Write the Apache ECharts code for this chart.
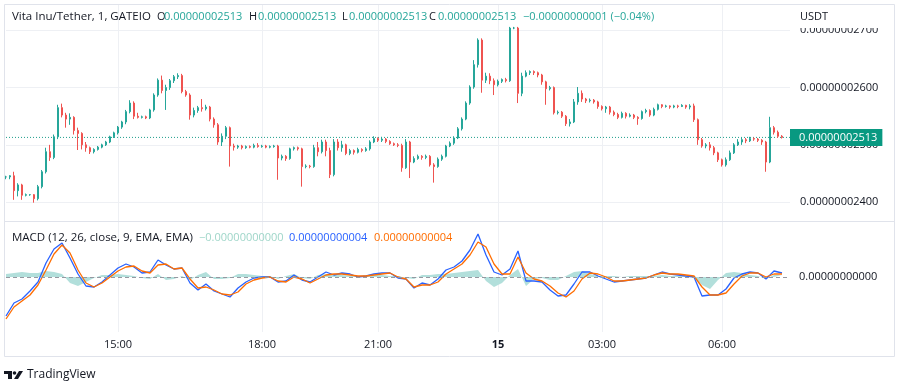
<!DOCTYPE html>
<html><head><meta charset="utf-8">
<script src="https://cdn.jsdelivr.net/npm/echarts@6/dist/echarts.min.js"></script>
<style>html,body{margin:0;padding:0;background:#fff}#c{width:900px;height:386px}</style>
</head><body><div id="c"></div>
<script>
// ---- data (prices in units of 1e-11 USDT) ----
const timeLabels = [[28,'15:00'],[64,'18:00'],[93,'21:00'],[123,'15'],[149,'03:00'],[179,'06:00']];
const barCount = 197;
const priceTicks = [2400, 2500, 2600, 2700];
const lastPrice = 2513;
// [open, close, low, high]
const ohlc = [
[2444,2444,2440,2446],[2444,2446,2440,2447],[2446,2420,2404,2453],[2420,2430,2410,2433],[2430,2412,2404,2432],
[2412,2413,2410,2415],[2413,2413,2411,2414],[2413,2406,2399,2414],[2406,2427,2403,2430],[2427,2453,2424,2456],
[2453,2488,2450,2495],[2488,2478,2472,2500],[2478,2514,2475,2518],[2514,2565,2510,2570],[2565,2552,2548,2572],
[2552,2545,2530,2556],[2545,2548,2535,2555],[2548,2525,2518,2550],[2525,2520,2491,2530],[2520,2500,2492,2522],
[2500,2495,2488,2505],[2495,2488,2484,2497],[2488,2492,2485,2494],[2492,2496,2490,2498],[2496,2500,2494,2502],
[2500,2505,2498,2507],[2505,2514,2503,2516],[2514,2521,2512,2523],[2521,2531,2518,2533],[2531,2540,2528,2542],
[2540,2558,2536,2561],[2558,2573,2555,2578],[2573,2550,2545,2576],[2550,2548,2546,2556],[2548,2549,2546,2551],
[2549,2547,2545,2551],[2547,2561,2545,2563],[2561,2587,2558,2590],[2587,2613,2584,2616],[2613,2595,2590,2621],
[2595,2600,2561,2605],[2600,2612,2596,2615],[2612,2619,2608,2622],[2619,2621,2615,2625],[2621,2593,2590,2624],
[2593,2587,2584,2596],[2587,2552,2544,2590],[2552,2560,2548,2565],[2560,2565,2556,2568],[2565,2563,2558,2580],
[2563,2566,2560,2570],[2566,2545,2541,2568],[2545,2535,2530,2548],[2535,2505,2500,2538],[2505,2515,2498,2520],
[2515,2530,2510,2533],[2530,2498,2462,2532],[2498,2496,2490,2502],[2496,2498,2493,2500],[2498,2495,2492,2500],
[2495,2497,2493,2499],[2497,2496,2494,2499],[2496,2499,2494,2502],[2499,2497,2495,2503],[2497,2498,2495,2500],
[2498,2496,2494,2500],[2496,2497,2494,2499],[2497,2498,2495,2500],[2498,2477,2439,2500],[2477,2480,2473,2483],
[2480,2476,2472,2482],[2476,2493,2474,2495],[2493,2495,2490,2497],[2495,2493,2490,2497],[2493,2462,2427,2495],
[2462,2463,2459,2466],[2463,2462,2459,2465],[2462,2495,2460,2500],[2495,2488,2480,2505],[2488,2505,2485,2509],
[2505,2490,2480,2509],[2490,2448,2442,2495],[2448,2505,2445,2510],[2505,2495,2490,2510],[2495,2500,2488,2507],
[2500,2485,2482,2502],[2485,2490,2482,2493],[2490,2487,2483,2492],[2487,2492,2485,2495],[2492,2490,2487,2494],
[2490,2493,2488,2496],[2493,2505,2490,2508],[2505,2511,2503,2515],[2511,2508,2505,2513],[2508,2510,2505,2514],
[2510,2506,2503,2512],[2506,2502,2500,2508],[2502,2500,2498,2504],[2500,2499,2496,2503],[2499,2460,2453,2502],
[2460,2505,2458,2510],[2505,2470,2442,2507],[2470,2476,2468,2480],[2476,2480,2474,2483],[2480,2478,2474,2482],
[2478,2480,2475,2483],[2480,2465,2462,2482],[2465,2462,2434,2468],[2462,2475,2460,2478],[2475,2480,2472,2483],
[2480,2498,2478,2500],[2498,2503,2496,2506],[2503,2512,2500,2515],[2512,2528,2510,2531],[2528,2545,2525,2548],
[2545,2573,2543,2576],[2573,2601,2570,2604],[2601,2640,2598,2648],[2640,2683,2635,2686],[2683,2613,2591,2686],
[2613,2620,2608,2626],[2620,2612,2606,2625],[2612,2605,2587,2616],[2605,2611,2602,2614],[2611,2614,2608,2616],
[2614,2612,2609,2617],[2612,2704,2610,2706],[2704,2704,2702,2706],[2704,2590,2573,2706],[2590,2620,2585,2626],
[2620,2626,2618,2630],[2626,2628,2622,2630],[2628,2626,2622,2630],[2626,2622,2618,2628],[2622,2610,2605,2624],
[2610,2598,2570,2612],[2598,2600,2595,2603],[2600,2556,2553,2602],[2556,2557,2553,2560],[2557,2550,2547,2559],
[2550,2537,2533,2552],[2537,2540,2532,2545],[2540,2575,2538,2580],[2575,2590,2570,2601],[2590,2580,2575,2595],
[2580,2577,2573,2582],[2577,2578,2574,2581],[2578,2575,2572,2580],[2575,2567,2563,2577],[2567,2563,2560,2569],
[2563,2566,2556,2568],[2566,2557,2553,2568],[2557,2553,2550,2560],[2553,2548,2545,2556],[2548,2555,2546,2558],
[2555,2550,2546,2557],[2550,2552,2548,2555],[2552,2548,2545,2554],[2548,2546,2535,2550],[2546,2558,2544,2560],
[2558,2560,2555,2563],[2560,2552,2549,2562],[2552,2562,2550,2565],[2562,2570,2560,2572],[2570,2567,2564,2571],
[2567,2568,2565,2570],[2568,2566,2563,2569],[2566,2568,2564,2570],[2568,2567,2564,2570],[2567,2569,2566,2571],
[2569,2566,2563,2570],[2566,2568,2562,2571],[2568,2544,2540,2572],[2544,2509,2500,2546],[2509,2498,2495,2512],
[2498,2500,2494,2503],[2500,2495,2490,2505],[2495,2486,2482,2498],[2486,2474,2470,2488],[2474,2465,2462,2476],
[2465,2474,2462,2478],[2474,2486,2472,2490],[2486,2500,2484,2503],[2500,2505,2498,2510],[2505,2509,2500,2512],
[2509,2507,2503,2512],[2507,2511,2505,2514],[2511,2510,2507,2513],[2510,2508,2505,2512],[2508,2505,2500,2510],
[2505,2470,2453,2507],[2470,2530,2468,2549],[2530,2522,2518,2533],[2522,2515,2512,2525],[2515,2513,2511,2517]
];
// MACD pane values (one point every 2 bars), in units of 1e-11
const macdLine = [-39,-26,-22,-14,-5,14,28,34,19,3,-9,-10,-5,2,9,13,10,4,5,17,12,8,9,-6,-13,-7,-14,-17,-20,-11,
-5,-1,0,0,-5,-4,2,-3,-5,0,5,2,4,3,0,1,3,4,4,-1,-2,-11,-6,-8,-2,7,10,16,27,43,
22,5,2,8,26,-4,-4,-5,-13,-19,-18,-7,5,5,1,-2,-5,-4,-3,-2,-1,2,5,3,2,1,0,-19,-18,-18,
-12,-1,3,5,4,-2,6,4];
const signalLine = [-42,-30,-24,-18,-8,7,23,32,24,7,-6,-10,-6,0,6,10,11,6,4,12,13,8,9,-2,-11,-10,-13,-17,-18,-15,
-7,-3,-1,0,-4,-5,0,-2,-6,-2,2,3,3,2,1,1,2,3,4,0,-2,-10,-8,-8,-5,3,8,13,22,35,
30,13,3,3,20,4,-2,-4,-9,-16,-20,-14,-2,4,3,0,-4,-4,-3,-2,-1,2,4,3,3,2,1,-10,-18,-18,
-16,-7,1,4,4,0,3,3];
const histogram = [3,4,5,4,4,6,5,3,-6,-9,-5,-1,2,2,3,2,1,-1,-2,3,-3,-2,1,-3,2,5,-2,-2,-1,3,
3,2,1,1,-2,1,3,-1,-2,2,3,3,2,1,1,1,2,2,1,1,-1,-2,2,2,3,3,4,5,6,7,
-4,-10,-6,2,8,-9,-2,-1,-3,-3,1,5,6,3,1,1,1,0,1,1,1,1,2,1,1,1,0,-8,-12,-3,
4,5,4,2,1,-2,2,2];

// ---- build ----
const categories = new Array(barCount).fill('');
timeLabels.forEach(([i, t]) => { categories[i] = t; });
const fmtPrice = v => '0.0000000' + Math.round(v);
const UP = '#26a69a', DOWN = '#ef5350', TXT = '#131722', GRIDC = '#eef0f4';
const FONT = '"Open Sans", sans-serif';
const labelInt = (i, v) => v !== '';
const pairs = arr => arr.map((v, j) => [2 * j, v]);

const chart = echarts.init(document.getElementById('c'), null, {renderer: 'canvas'});
const txt = (x, y, s, fill, size, weight) => ({type: 'text', x, y, silent: true, z: 50,
  style: {text: s, fill, font: (weight || 'normal') + ' ' + (size || 11) + 'px ' + FONT, verticalAlign: 'middle'}});

chart.setOption({
  animation: false,
  backgroundColor: '#ffffff',
  textStyle: {fontFamily: FONT},
  grid: [
    {left: 6, width: 784, top: 4, height: 217},
    {left: 6, width: 784, top: 222, height: 110}
  ],
  xAxis: [
    {type: 'category', gridIndex: 0, data: categories, boundaryGap: false,
     axisLine: {show: false}, axisTick: {show: false}, axisLabel: {show: false},
     splitLine: {show: true, interval: labelInt, lineStyle: {color: GRIDC}}},
    {type: 'category', gridIndex: 1, data: categories, boundaryGap: false,
     axisLine: {show: false}, axisTick: {show: false},
     axisLabel: {interval: labelInt, color: TXT, fontSize: 11, margin: 7,
       formatter: v => v === '15' ? '{b|15}' : v,
       rich: {b: {fontWeight: 'bold', fontSize: 11, color: TXT}}},
     splitLine: {show: true, interval: labelInt, lineStyle: {color: GRIDC}}}
  ],
  yAxis: [
    {type: 'value', gridIndex: 0, position: 'right', min: 2367, max: 2746,
     axisLine: {show: false}, axisTick: {show: false, customValues: priceTicks},
     axisLabel: {customValues: priceTicks, formatter: v => fmtPrice(v),
       margin: 10, color: TXT, fontSize: 11},
     splitLine: {show: true, lineStyle: {color: GRIDC}}},
    {type: 'value', gridIndex: 1, position: 'right', min: -55, max: 55, interval: 55,
     axisLine: {show: false}, axisTick: {show: false}, splitLine: {show: false},
     axisLabel: {formatter: v => v === 0 ? '0.00000000000' : '', margin: 9, color: TXT, fontSize: 11}}
  ],
  series: [
    {type: 'line', name: 'last', xAxisIndex: 0, yAxisIndex: 0, z: 1,
     data: [[0, lastPrice], [barCount - 1, lastPrice]], symbol: 'none',
     lineStyle: {color: '#1f9f8c', type: [1, 2], width: 1},
     endLabel: {show: true, distance: 0, formatter: () => fmtPrice(lastPrice),
       color: '#ffffff', backgroundColor: '#089981', padding: [3, 5, 3, 9], fontSize: 11, fontFamily: FONT}},
    {type: 'candlestick', xAxisIndex: 0, yAxisIndex: 0, data: ohlc, barWidth: 2,
     itemStyle: {color: UP, color0: DOWN, borderColor: UP, borderColor0: DOWN, borderWidth: 1}},
    {type: 'line', xAxisIndex: 1, yAxisIndex: 1, data: pairs(histogram), symbol: 'none',
     lineStyle: {opacity: 0}, areaStyle: {color: '#b2dfdb', opacity: 1},
     markLine: {silent: true, symbol: 'none', animation: false, label: {show: false},
       lineStyle: {color: '#9598a1', type: [4, 3], width: 1}, data: [{yAxis: 0}]}},
    {type: 'line', xAxisIndex: 1, yAxisIndex: 1, data: pairs(macdLine), symbol: 'none',
     lineStyle: {color: '#2962ff', width: 1.3}},
    {type: 'line', xAxisIndex: 1, yAxisIndex: 1, data: pairs(signalLine), symbol: 'none',
     lineStyle: {color: '#ff6d00', width: 1.3}}
  ],
  graphic: [
    {type: 'rect', silent: true, z: 40, shape: {x: 4.5, y: 4.5, width: 890, height: 352}, style: {fill: 'none', stroke: '#e0e3eb', lineWidth: 1}},
    {type: 'line', silent: true, z: 40, shape: {x1: 4, y1: 221.5, x2: 894, y2: 221.5}, style: {stroke: '#e0e3eb', lineWidth: 1}},
    {type: 'rect', silent: true, z: 45, shape: {x: 792, y: 5, width: 102, height: 23}, style: {fill: '#ffffff'}},
    txt(800, 17, 'USDT', TXT),
    txt(12, 17, 'Vita Inu/Tether, 1, GATEIO', TXT, 11.5),
    txt(157, 17, 'O', TXT), txt(164, 17, fmtPrice(ohlc[ohlc.length - 1][1]), UP),
    txt(249, 17, 'H', TXT), txt(258, 17, fmtPrice(ohlc[ohlc.length - 1][1]), UP),
    txt(342, 17, 'L', TXT), txt(349, 17, fmtPrice(ohlc[ohlc.length - 1][1]), UP),
    txt(429, 17, 'C', TXT), txt(438, 17, fmtPrice(ohlc[ohlc.length - 1][1]), UP),
    txt(523, 17, '\u22120.00000000001 (\u22120.04%)', UP),
    txt(12, 238, 'MACD (12, 26, close, 9, EMA, EMA)', TXT, 11.5),
    txt(199, 238, '\u22120.00000000000', '#9fd6c9'),
    txt(289, 238, '0.00000000004', '#2962ff'),
    txt(374, 238, '0.00000000004', '#ff6d00'),
    {type: 'rect', silent: true, shape: {x: 4, y: 371, width: 8, height: 3}, style: {fill: TXT}},
    {type: 'rect', silent: true, shape: {x: 8, y: 371, width: 4, height: 8}, style: {fill: TXT}},
    {type: 'circle', silent: true, shape: {cx: 14.5, cy: 373, r: 1.8}, style: {fill: TXT}},
    {type: 'polygon', silent: true, shape: {points: [[14, 379], [19, 371], [23, 371], [18, 379]]}, style: {fill: TXT}},
    txt(27, 375, 'TradingView', TXT, 12)
  ]
});
</script></body></html>
